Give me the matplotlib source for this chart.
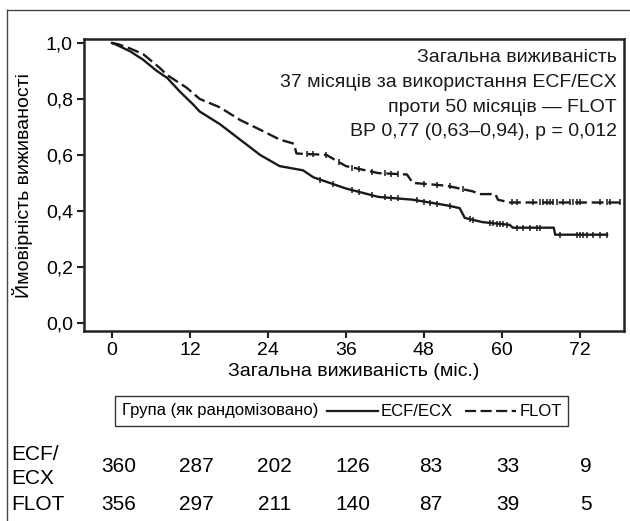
import numpy as np
import matplotlib
matplotlib.use("Agg")
import matplotlib.pyplot as plt
from matplotlib.transforms import blended_transform_factory

plt.rcParams['font.family'] = ['Liberation Sans', 'DejaVu Sans']

# ---- data ----
ecf_t = [0, 1.0, 2.8, 4.8, 6.9, 8.5, 10.5, 12.5, 13.5, 16.6, 19.7, 22.8, 25.8, 29.4, 31.0,
         36.0, 41.0, 46.3, 51.5, 53.5, 54.3, 57.0, 61.2, 61.7, 68.0, 68.2, 76.2]
ecf_s = [1.0, 0.99, 0.97, 0.94, 0.90, 0.875, 0.825, 0.78, 0.755, 0.71, 0.655, 0.60, 0.56, 0.545, 0.52,
         0.48, 0.45, 0.44, 0.42, 0.41, 0.375, 0.36, 0.35, 0.34, 0.34, 0.315, 0.315]

flot_t = [0, 1.0, 2.8, 4.8, 7.4, 8.5, 11.5, 13.5, 16.6, 19.7, 22.8, 25.8, 28.0, 28.4, 33.0,
          36.0, 41.0, 45.4, 46.3, 51.5, 53.5, 55.5, 56.6, 59.0, 59.4, 61.2, 78.2]
flot_s = [1.0, 0.995, 0.98, 0.96, 0.91, 0.885, 0.84, 0.80, 0.77, 0.725, 0.69, 0.655, 0.64, 0.605, 0.60,
          0.56, 0.535, 0.53, 0.50, 0.49, 0.48, 0.47, 0.46, 0.46, 0.44, 0.43, 0.43]

ecf_cens = [32, 34, 37, 38, 40, 42, 43, 44, 47, 48, 49, 50, 52, 55.1, 55.5, 58.2, 58.6, 59.2,
            59.7, 60.2, 60.8, 62.3, 63.2, 64.3, 65.4, 65.8, 68.9, 71.5, 72.0, 72.5, 73.1, 74.0, 75.1, 76.2]
flot_cens = [30, 31, 33, 35, 37, 38, 40, 42, 43, 44, 48, 50, 52, 54, 61.5, 62.3, 64.8, 65.8, 66.3,
             67.0, 67.4, 67.8, 68.5, 69.4, 70.5, 70.9, 71.5, 72.0, 75.1, 76.2, 76.6, 78.2]

xticks = [0, 12, 24, 36, 48, 60, 72]
yticks = [0.0, 0.2, 0.4, 0.6, 0.8, 1.0]
ytick_labels = ["0,0", "0,2", "0,4", "0,6", "0,8", "1,0"]
risk_ecf = [360, 287, 202, 126, 83, 33, 9]
risk_flot = [356, 297, 211, 140, 87, 39, 5]

annot_lines = ["Загальна виживаність",
               "37 місяців за використання ECF/ECX",
               "проти 50 місяців — FLOT",
               "ВР 0,77 (0,63–0,94), p = 0,012"]

W, H = 630, 521
fig = plt.figure(figsize=(W / 100, H / 100), dpi=100)
fig.patch.set_facecolor('white')

L, R, T, B = 84, 624, 39, 331
ax = fig.add_axes([L / W, 1 - B / H, (R - L) / W, (B - T) / H])
ax.set_xlim(-4.3, 78.8)
ax.set_ylim(-0.029, 1.014)

col = '#1a1a1a'
ax.plot(ecf_t, ecf_s, color=col, lw=1.7, solid_joinstyle='round')
ax.plot(flot_t, flot_s, color=col, lw=1.7, linestyle=(0, (5, 2)))
ax.plot(ecf_cens, np.interp(ecf_cens, ecf_t, ecf_s), linestyle='none', marker='|',
        markersize=5, mew=1.1, color=col)
ax.plot(flot_cens, np.interp(flot_cens, flot_t, flot_s), linestyle='none', marker='|',
        markersize=5, mew=1.1, color=col)

for sp in ax.spines.values():
    sp.set_linewidth(1.8)
    sp.set_color('#222222')
ax.set_xticks(xticks)
ax.set_xticklabels([str(v) for v in xticks], fontsize=14)
ax.set_yticks(yticks)
ax.set_yticklabels(ytick_labels, fontsize=14)
ax.tick_params(axis='both', direction='out', length=5, width=1.5, color='#222222', pad=3)
ax.set_xlabel("Загальна виживаність (міс.)", fontsize=14, labelpad=3)
ax.set_ylabel("Ймовірність виживаності", fontsize=14, labelpad=9)

# overlay in pixel coordinates
ov = fig.add_axes([0, 0, 1, 1], facecolor='none')
ov.set_xlim(0, W)
ov.set_ylim(H, 0)
ov.axis('off')

# outer frame
ov.plot([7, W], [10, 10], color='#444444', lw=1.0)
ov.plot([7, 7], [10, H], color='#444444', lw=1.0)

# annotation
for i, s in enumerate(annot_lines):
    ov.text(617, 58 + i * 24.5, s, ha='right', va='center', fontsize=14, color='#1a1a1a')

# legend box
ov.add_patch(plt.Rectangle((115, 396), 453, 30, fill=False, edgecolor='#333333', lw=1.0))
ov.text(122, 411, "Група (як рандомізовано)", ha='left', va='center', fontsize=12)
ov.plot([327, 378], [411, 411], color=col, lw=1.6)
ov.text(381, 411, "ECF/ECX", ha='left', va='center', fontsize=12)
ov.plot([465, 516], [411, 411], color=col, lw=1.6, linestyle=(0, (5, 2)))
ov.text(520, 411, "FLOT", ha='left', va='center', fontsize=12)

# risk table
tr = blended_transform_factory(ax.transData, ov.transData)
for t, v in zip(xticks, risk_ecf):
    ov.text(t + 1.0, 467, str(v), transform=tr, ha='center', va='center', fontsize=15)
for t, v in zip(xticks, risk_flot):
    ov.text(t + 1.0, 505, str(v), transform=tr, ha='center', va='center', fontsize=15)
ov.text(11, 455, "ECF/", ha='left', va='center', fontsize=15)
ov.text(11, 479, "ECX", ha='left', va='center', fontsize=15)
ov.text(11, 505, "FLOT", ha='left', va='center', fontsize=15)

fig.savefig("out.png", dpi=100)
